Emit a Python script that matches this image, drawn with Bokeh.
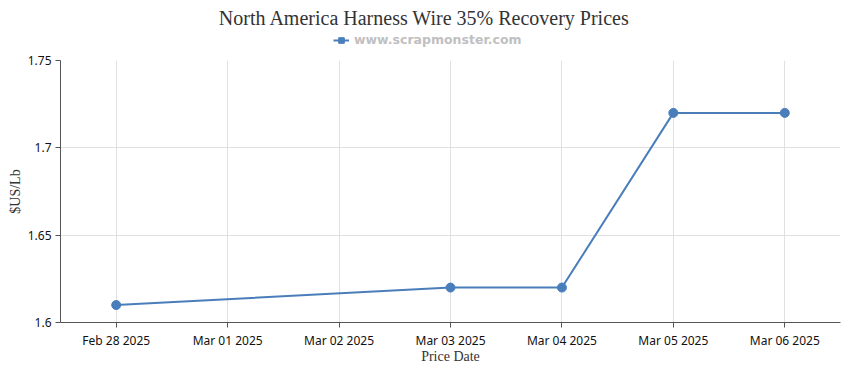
from datetime import datetime
from bokeh.plotting import figure
from bokeh.layouts import column
from bokeh.core.properties import value
from bokeh.models import (ColumnDataSource, FixedTicker, DatetimeTickFormatter,
                          NumeralTickFormatter, Range1d, Legend, LegendItem)
from bokeh.embed import file_html
from bokeh.resources import INLINE

title_text = "North America Harness Wire 35% Recovery Prices"
series_name = "www.scrapmonster.com"
dates = ["2025-02-28", "2025-03-03", "2025-03-04", "2025-03-05", "2025-03-06"]
prices = [1.61, 1.62, 1.62, 1.72, 1.72]
tick_dates = ["2025-02-28", "2025-03-01", "2025-03-02", "2025-03-03",
              "2025-03-04", "2025-03-05", "2025-03-06"]
y_ticks = [1.6, 1.65, 1.7, 1.75]

COLOR = "#4a7ebb"
FRAME_W, FRAME_H = 780, 262
LEFT, RIGHT = 60, 8
HEADER_H = 52

def ms(d):
    return datetime.strptime(d, "%Y-%m-%d").timestamp() * 1000.0

x = [datetime.strptime(d, "%Y-%m-%d") for d in dates]
src = ColumnDataSource(dict(x=x, y=prices))

# ---- header: title + legend (frame is aligned with the main plot frame) ----
h = figure(width=LEFT + FRAME_W + RIGHT, height=HEADER_H, output_backend="svg",
           toolbar_location=None, x_range=Range1d(LEFT, LEFT + FRAME_W),
           y_range=Range1d(0, HEADER_H), min_border=0)
h.axis.visible = False
h.grid.visible = False
h.outline_line_color = None
page_center = (LEFT + FRAME_W + RIGHT) / 2
h.text(x=[page_center], y=[HEADER_H - 17], text=[title_text],
       text_align="center", text_baseline="middle",
       text_font=value("Liberation Serif"), text_font_size="20px",
       text_color="#333333")
dummy = ColumnDataSource(dict(x=[-1000], y=[-1000]))
hl = h.line("x", "y", source=dummy, line_color=COLOR, line_width=2)
hs = h.scatter("x", "y", source=dummy, marker="square", size=6,
               fill_color=COLOR, line_color=COLOR)
legend = Legend(items=[LegendItem(label=series_name, renderers=[hl, hs])],
                orientation="horizontal", location=(333 - LEFT, 5),
                label_text_font="DejaVu Sans", label_text_font_size="12.5px",
                label_text_font_style="bold", label_text_color="#c0c0c0",
                border_line_color=None, background_fill_alpha=0,
                glyph_width=16, glyph_height=14, padding=0, margin=0,
                label_standoff=5, spacing=0, label_height=14)
h.add_layout(legend)

# ---- main plot ----
half_day = 12 * 3600 * 1000.0
p = figure(frame_width=FRAME_W, frame_height=FRAME_H, x_axis_type="datetime",
           output_backend="svg", toolbar_location=None,
           x_range=Range1d(ms(tick_dates[0]) - half_day, ms(tick_dates[-1]) + half_day),
           y_range=Range1d(y_ticks[0], y_ticks[-1]),
           min_border_left=LEFT, min_border_right=RIGHT, min_border_top=8,
           min_border_bottom=40)

p.line("x", "y", source=src, line_color=COLOR, line_width=2)
p.scatter("x", "y", source=src, size=9, fill_color=COLOR, line_color=COLOR)

p.xaxis.ticker = FixedTicker(ticks=[ms(d) for d in tick_dates])
p.xaxis.formatter = DatetimeTickFormatter(days="%b %d %Y", months="%b %d %Y",
                                          hours="%b %d %Y", years="%b %d %Y")
p.yaxis.ticker = FixedTicker(ticks=y_ticks)
p.yaxis.formatter = NumeralTickFormatter(format="0.[00]")

p.xaxis.axis_label = "Price Date"
p.yaxis.axis_label = "$US/Lb"
for ax in (p.xaxis, p.yaxis):
    ax.axis_label_text_font = "Liberation Serif"
    ax.axis_label_text_font_size = "14px"
    ax.axis_label_text_font_style = "normal"
    ax.axis_label_text_color = "#333333"
    ax.major_label_text_font = "Noto Sans"
    ax.major_label_text_font_size = "12px"
    ax.major_label_text_color = "#111111"
    ax.axis_line_color = "#555555"
    ax.major_tick_line_color = "#555555"
    ax.minor_tick_line_color = None
    ax.major_tick_in = 0
    ax.major_tick_out = 5
    ax.major_label_standoff = 4
p.xaxis.axis_label_standoff = -3
p.yaxis.axis_label_standoff = 2

p.xgrid.grid_line_color = "#e0e0e0"
p.ygrid.grid_line_color = "#e0e0e0"
p.outline_line_color = None

layout = column(h, p, spacing=0)
open("out.html", "w").write(file_html(layout, INLINE))
